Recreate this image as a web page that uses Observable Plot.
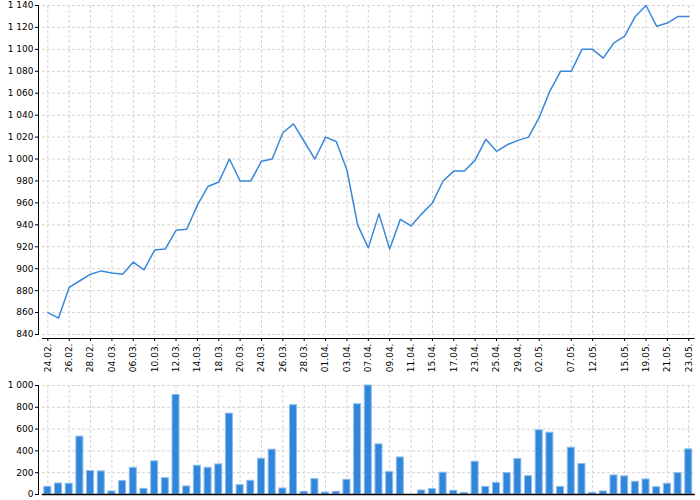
<!DOCTYPE html>
<html>
<head>
<meta charset="utf-8">
<script src="https://cdn.jsdelivr.net/npm/d3@7"></script>
<script src="https://cdn.jsdelivr.net/npm/@observablehq/plot@0.6"></script>
<style>
  html, body { margin: 0; padding: 0; background: #fff; }
  #chart svg { display: block; }
</style>
</head>
<body>
<div id="chart"></div>
<script>
// Trading days (DD.MM)
const dates = [
  "24.02","25.02","26.02","27.02","28.02","03.03","04.03","05.03","06.03","07.03",
  "10.03","11.03","12.03","13.03","14.03","17.03","18.03","19.03","20.03","21.03",
  "24.03","25.03","26.03","27.03","28.03","31.03","01.04","02.04","03.04","04.04",
  "07.04","08.04","09.04","10.04","11.04","14.04","15.04","16.04","17.04","22.04",
  "23.04","24.04","25.04","28.04","29.04","30.04","02.05","05.05","06.05","07.05",
  "08.05","12.05","13.05","14.05","15.05","16.05","19.05","20.05","21.05","22.05",
  "23.05"
];
// Closing price
const close = [
  860, 855, 883, 889, 895, 898, 896, 895, 906, 899,
  917, 918, 935, 936, 958, 975, 979, 1000, 980, 980,
  998, 1000, 1024, 1032, 1016, 1000, 1020, 1016, 990, 940,
  919, 950, 918, 945, 939, 950, 960, 980, 989, 989,
  999, 1018, 1007, 1013, 1017, 1020, 1038, 1062, 1080, 1080,
  1100, 1100, 1092, 1106, 1112, 1130, 1140, 1121, 1124, 1130,
  1130
];
// Volume
const volume = [
  70, 101, 98, 531, 215, 212, 28, 123, 245, 52,
  304, 150, 914, 74, 264, 245, 276, 742, 86, 126,
  328, 411, 55, 819, 25, 141, 18, 25, 135, 828,
  1000, 460, 205, 340, 0, 37, 49, 200, 34, 15,
  300, 70, 107, 196, 325, 169, 589, 567, 70, 429,
  279, 15, 28, 175, 166, 117, 138, 67, 98, 196,
  414
];
// Labelled ticks on the x axis
const tickDates = [
  "24.02","26.02","28.02","04.03","06.03","10.03","12.03","14.03","18.03","20.03",
  "24.03","26.03","28.03","01.04","03.04","07.04","09.04","11.04","15.04","17.04",
  "23.04","25.04","29.04","02.05","07.05","12.05","15.05","19.05","21.05","23.05"
];
const priceTicks = [840, 860, 880, 900, 920, 940, 960, 980, 1000, 1020, 1040, 1060, 1080, 1100, 1120, 1140];
const volumeTicks = [0, 200, 400, 600, 800, 1000];

const rows = dates.map((d, i) => ({date: d, close: close[i], volume: volume[i]}));
const fmt = d3.formatLocale({decimal: ",", thousands: "\u00a0", grouping: [3], currency: ["", ""]}).format(",");

const lineColor = "#3a88db";
const gridStyle = {stroke: "#d4d4d4", strokeOpacity: 1, strokeDasharray: "3,2"};
const baseStyle = {fontFamily: "DejaVu Sans, sans-serif", fontSize: "9px", color: "#000", background: "#fff", overflow: "visible"};

const priceChart = Plot.plot({
  width: 700,
  height: 378,
  marginTop: 5,
  marginBottom: 44,
  marginLeft: 42,
  marginRight: 6.4,
  style: baseStyle,
  x: {type: "point", domain: dates, padding: 0.5, align: 0.5, axis: null, label: null},
  y: {domain: [840, 1140], axis: null, label: null},
  marks: [
    Plot.gridY(priceTicks, gridStyle),
    Plot.gridX(tickDates, gridStyle),
    Plot.frame({anchor: "left", dx: -4, stroke: "#000"}),
    Plot.frame({anchor: "bottom", dy: 4, stroke: "#000"}),
    Plot.axisY(priceTicks, {label: null, tickSize: 3, tickPadding: 2, dx: -4, tickFormat: fmt}),
    Plot.axisX(tickDates, {label: null, tickSize: 3, tickPadding: 2, dy: 4, tickRotate: -90, tickFormat: d => d + "."}),
    Plot.line(rows, {x: "date", y: "close", stroke: lineColor, strokeWidth: 1.5})
  ]
});

const volumeChart = Plot.plot({
  width: 700,
  height: 122,
  marginTop: 7,
  marginBottom: 6,
  marginLeft: 42,
  marginRight: 6.4,
  style: baseStyle,
  x: {type: "band", domain: dates, paddingInner: 0.25, paddingOuter: 0.125, align: 0.5, axis: null, label: null},
  y: {domain: [0, 1000], axis: null, label: null},
  marks: [
    Plot.gridY(volumeTicks, gridStyle),
    Plot.gridX(tickDates, gridStyle),
    Plot.barY(rows, {x: "date", y: "volume", fill: "#3186d9", stroke: "#8cbdee", strokeWidth: 1, insetLeft: 0.5, insetRight: 0.5}),
    Plot.frame({anchor: "left", dx: -4, stroke: "#000"}),
    Plot.frame({anchor: "bottom", stroke: "#000", strokeWidth: 1.5}),
    Plot.axisY(volumeTicks, {label: null, tickSize: 3, tickPadding: 2, dx: -4, tickFormat: fmt})
  ]
});

const root = document.getElementById("chart");
root.appendChild(priceChart);
root.appendChild(volumeChart);
</script>
</body>
</html>
